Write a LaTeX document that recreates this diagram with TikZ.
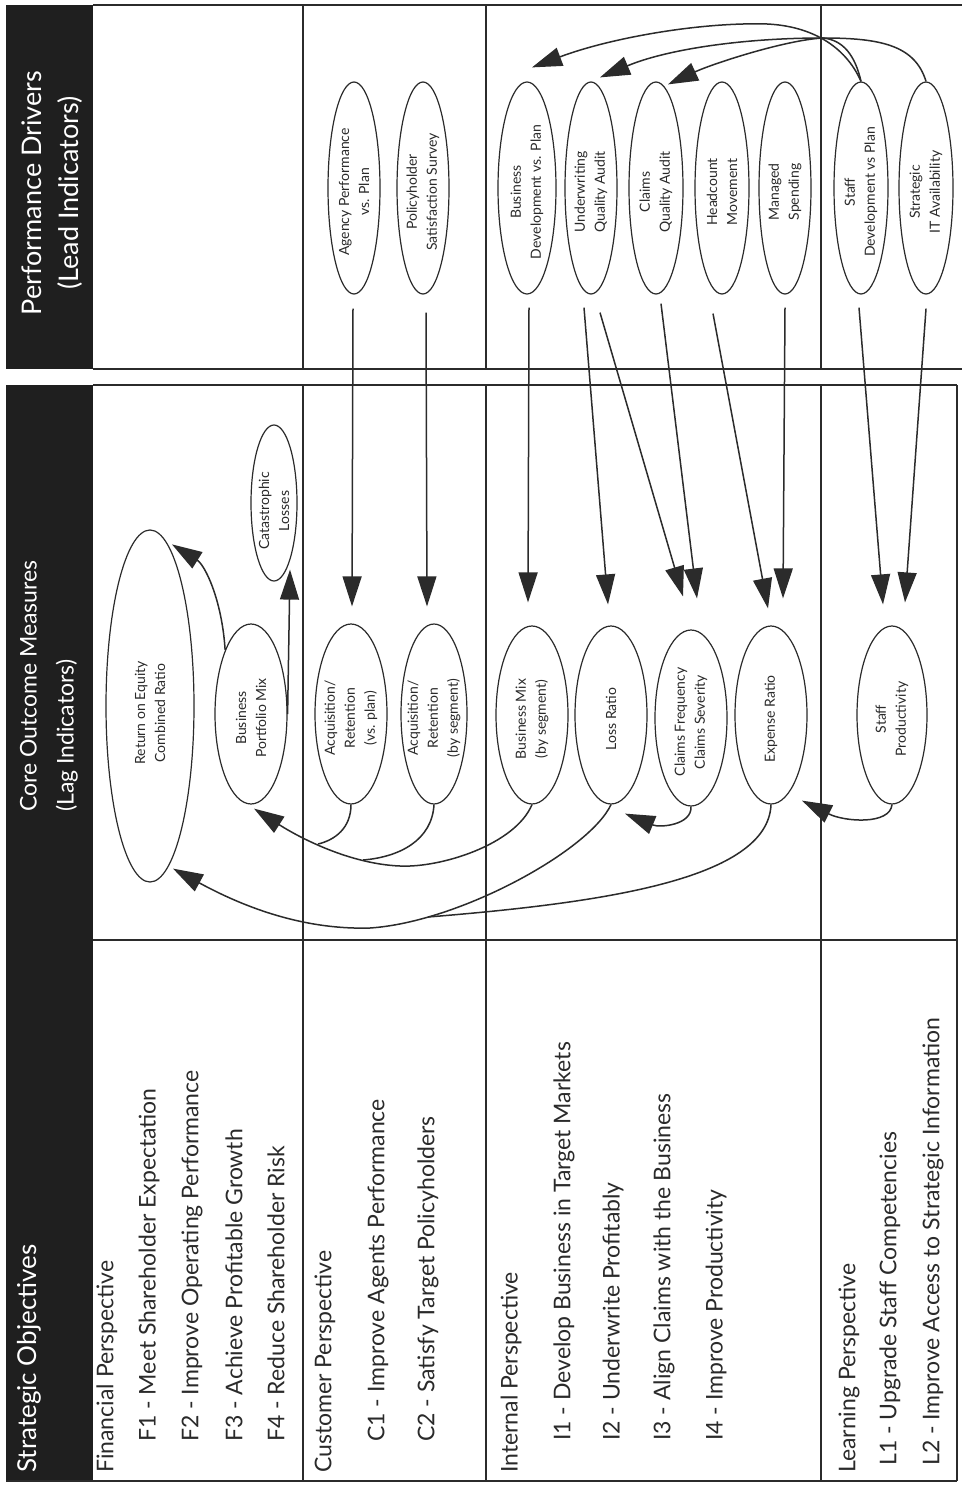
\documentclass[tikz,border=0pt]{standalone}
\usepackage{fontspec}
\setmainfont{Lato}
\usetikzlibrary{shapes.geometric,arrows.meta,calc}
\definecolor{linec}{HTML}{2B2B2B}
\definecolor{bandc}{HTML}{1F1F1F}
\definecolor{txtc}{HTML}{2A2A2A}
\begin{document}
\begin{tikzpicture}[x=1pt,y=-1pt,
  fr/.style={draw=linec,line width=1.3pt},
  ell/.style={draw=linec,ellipse,line width=1.2pt,inner sep=0pt},
  etxt/.style={rotate=90,align=center,text=txtc,inner sep=0pt,font=\fontsize{14}{20}\selectfont},
  otxt/.style={rotate=90,anchor=west,text=txtc,inner sep=0pt,font=\fontsize{23}{27}\selectfont},
  htxt/.style={rotate=90,text=white,inner sep=0pt,font=\fontsize{26}{37}\selectfont},
  cn/.style={draw=linec,line width=1.5pt},
  arr/.style={cn,-{Triangle[length=30pt,width=19pt]}},
]
\useasboundingbox (0,0) rectangle (962,1485);
\fill[white] (0,0) rectangle (962,1485);
% bands and frame
\fill[bandc] (6,5) rectangle (93,369);
\fill[bandc] (6,385) rectangle (93,1481);
\draw[fr] (93,5) -- (962,5);
\draw[fr] (93,369) -- (962,369);
\draw[fr] (93,385) -- (957,385);
\draw[fr] (93,940) -- (957,940);
\draw[fr] (6,1481) -- (957,1481);
\draw[fr] (957,385) -- (957,1481);
\foreach \x in {303,486,821} {\draw[fr] (\x,5) -- (\x,369); \draw[fr] (\x,385) -- (\x,1481);}
% headers
\node[htxt,align=center,font=\fontsize{27}{37}\selectfont] (hpd) at (52,193) {Performance Drivers\\(Lead Indicators)};
\node[htxt,align=left,anchor=west,font=\fontsize{23}{37}\selectfont] (hcom) at (49,812) {Core Outcome Measures\\(Lag Indicators)};
\node[htxt,anchor=west] (hso) at (29,1473) {Strategic Objectives};
% objectives
\node[otxt] (fp) at (107,1473) {Financial Perspective};
\node[otxt] (f1) at (149,1442) {F1 - Meet Shareholder Expectation};
\node[otxt] (f2) at (192,1442) {F2 - Improve Operating Performance};
\node[otxt] (f3) at (234,1442) {F3 - Achieve Profitable Growth};
\node[otxt] (f4) at (276,1442) {F4 - Reduce Shareholder Risk};
\node[otxt] (cp) at (325,1473) {Customer Perspective};
\node[otxt] (c1) at (378,1442) {C1 - Improve Agents Performance};
\node[otxt] (c2) at (428,1442) {C2 - Satisfy Target Policyholders};
\node[otxt] (ip) at (511,1473) {Internal Perspective};
\node[otxt] (i1) at (564,1441) {I1 - Develop Business in Target Markets};
\node[otxt] (i2) at (613,1441) {I2 - Underwrite Profitably};
\node[otxt] (i3) at (664,1441) {I3 - Align Claims with the Business};
\node[otxt] (i4) at (716,1441) {I4 - Improve Productivity};
\node[otxt] (lp) at (849,1473) {Learning Perspective};
\node[otxt] (l1) at (890,1466) {L1 - Upgrade Staff Competencies};
\node[otxt] (l2) at (933,1466) {L2 - Improve Access to Strategic Information};
% performance drivers
\node[ell,minimum width=52pt,minimum height=212pt] (agency) at (354,188) {};
\node[ell,minimum width=52pt,minimum height=212pt] (policy) at (423,188) {};
\node[ell,minimum width=58pt,minimum height=212pt] (busdev) at (527,188) {};
\node[ell,minimum width=52pt,minimum height=212pt] (uwqa) at (591,188) {};
\node[ell,minimum width=54pt,minimum height=212pt] (claimsqa) at (656,188) {};
\node[ell,minimum width=54pt,minimum height=212pt] (headcount) at (722,188) {};
\node[ell,minimum width=52pt,minimum height=212pt] (managed) at (785,188) {};
\node[ell,minimum width=54pt,minimum height=212pt] (staffdev) at (861,188) {};
\node[ell,minimum width=54pt,minimum height=212pt] (stratit) at (926,188) {};
\node[etxt] (agencyt) at ($(agency)+(0,4)$) {Agency Performance\\vs. Plan};
\node[etxt] (policyt) at ($(policy)+(0,4)$) {Policyholder\\Satisfaction Survey};
\node[etxt] (busdevt) at ($(busdev)+(0,4)$) {Business\\Development vs. Plan};
\node[etxt] (uwqat) at ($(uwqa)+(0,4)$) {Underwriting\\Quality Audit};
\node[etxt] (claimsqat) at ($(claimsqa)+(0,4)$) {Claims\\Quality Audit};
\node[etxt] (headcountt) at ($(headcount)+(0,4)$) {Headcount\\Movement};
\node[etxt] (managedt) at ($(managed)+(0,4)$) {Managed\\Spending};
\node[etxt] (staffdevt) at ($(staffdev)+(0,4)$) {Staff\\Development vs Plan};
\node[etxt] (stratitt) at ($(stratit)+(0,4)$) {Strategic\\IT Availability};
% outcome measures
\node[ell,minimum width=88pt,minimum height=352pt] (roe) at (150,706) {};
\node[ell,minimum width=72pt,minimum height=180pt] (bpm) at (251,714) {};
\node[ell,minimum width=46pt,minimum height=156pt] (cat) at (274,503) {};
\node[ell,minimum width=72pt,minimum height=180pt] (acqplan) at (351,714) {};
\node[ell,minimum width=66pt,minimum height=180pt] (acqseg) at (434,714) {};
\node[ell,minimum width=72pt,minimum height=178pt] (bizmix) at (532,715) {};
\node[ell,minimum width=72pt,minimum height=178pt] (lossratio) at (611,715) {};
\node[ell,minimum width=72pt,minimum height=176pt] (claimsfreq) at (691,718) {};
\node[ell,minimum width=72pt,minimum height=178pt] (expense) at (771,715) {};
\node[ell,minimum width=70pt,minimum height=178pt] (staffprod) at (892,715) {};
\node[etxt] (roet) at ($(roe)+(0,7)$) {Return on Equity\\Combined Ratio};
\node[etxt] (bpmt) at ($(bpm)+(0,4)$) {Business\\Portfolio Mix};
\node[etxt] (catt) at ($(cat)+(0,8)$) {Catastrophic\\Losses};
\node[etxt] (acqplant) at ($(acqplan)+(0,4)$) {Acquisition/\\Retention\\(vs. plan)};
\node[etxt] (acqsegt) at ($(acqseg)+(0,4)$) {Acquisition/\\Retention\\(by segment)};
\node[etxt] (bizmixt) at ($(bizmix)+(0,4)$) {Business Mix\\(by segment)};
\node[etxt] (lossratiot) at ($(lossratio)+(0,4)$) {Loss Ratio};
\node[etxt] (claimsfreqt) at ($(claimsfreq)+(0,4)$) {Claims Frequency\\Claims Severity};
\node[etxt] (expenset) at ($(expense)+(0,4)$) {Expense Ratio};
\node[etxt] (staffprodt) at ($(staffprod)+(0,4)$) {Staff\\Productivity};
% drivers to outcomes
\draw[arr] ($(agency.south)+(-1,14)$) -- ($(acqplan.north)+(1,-17)$);
\draw[arr] ($(policy.south)+(3,18)$) -- ($(acqseg.north)+(-7,-17)$);
\draw[arr] ($(busdev.south)+(2,13)$) -- ($(bizmix.north)+(-4,-23)$);
\draw[arr] ($(uwqa.south)+(-7,13)$) -- ($(lossratio.north)+(-3,-21)$);
\draw[arr] ($(uwqa.south)+(9,18)$) -- ($(claimsfreq.north)+(-8,-33)$);
\draw[arr] ($(claimsqa.south)+(5,9)$) -- ($(claimsfreq.north)+(6,-31)$);
\draw[arr] ($(headcount.south)+(-9,19)$) -- ($(expense.north)+(-3,-17)$);
\draw[arr] ($(managed.south)+(0,13)$) -- ($(expense.north)+(12,-27)$);
\draw[arr] ($(staffdev.south)+(-2,13)$) -- ($(staffprod.north)+(-9,-21)$);
\draw[arr] ($(stratit.south)+(0,14)$) -- ($(staffprod.north)+(13,-23)$);
% top feedback arcs
\coordinate (jn) at (823,38);
\draw[arr] (staffdev.north) .. controls (845,45) and (810,26) .. (767,24)
  .. controls (700,22) and (610,38) .. ($(busdev.north)+(5,-14)$);
\draw[cn] (staffdev.north) .. controls (855,55) and (843,40) .. (jn);
\draw[arr] (stratit.north) .. controls (915,45) and (880,38) .. (jn)
  .. controls (740,38) and (665,50) .. ($(uwqa.north)+(9,-4)$);
\draw[arr] (jn) .. controls (785,40) and (712,64) .. ($(claimsqa.north)+(12,3)$);
% outcome links
\draw[arr] (bpm.112) .. controls (222,600) and (205,565) .. ($(roe.north)+(22,15)$);
\draw[arr] (bpm.east) -- ($(cat.south)+(16,-12)$);
\draw[arr] (bizmix.south) .. controls (515,845) and (440,868) .. (400,866)
  .. controls (350,864) and (300,838) .. ($(bpm.south)+(3,4)$);
\draw[cn] (acqplan.south) .. controls (351,828) and (335,840) .. (318,844);
\draw[cn] (acqseg.south) .. controls (432,840) and (400,857) .. (363,860);
\draw[arr] (lossratio.south) .. controls (590,850) and (460,922) .. (370,928)
  .. controls (300,930) and (240,905) .. ($(roe.south)+(23,-14)$);
\draw[cn] (expense.south) .. controls (768,880) and (600,903) .. (428,917);
\draw[arr] (claimsfreq.south) .. controls (692,825) and (660,828) .. ($(lossratio.south)+(14,9)$);
\draw[arr] (staffprod.south) .. controls (890,825) and (845,822) .. ($(expense.south)+(31,-4)$);
\end{tikzpicture}
\end{document}
